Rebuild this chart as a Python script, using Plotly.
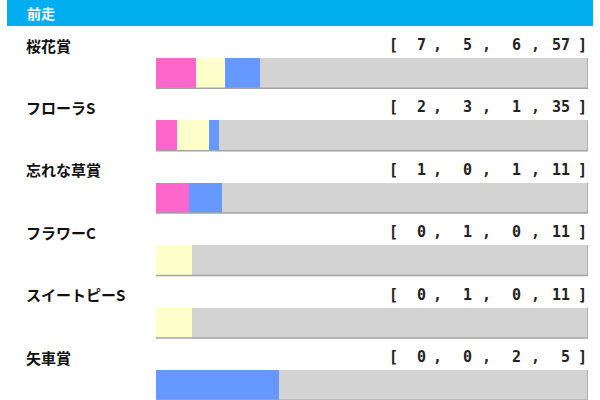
import numpy as np
import plotly.graph_objects as go

# previous race -> [1st, 2nd, 3rd, other] counts
races = ["桜花賞", "フローラS", "忘れな草賞", "フラワーC", "スイートピーS", "矢車賞"]
first = [7, 2, 1, 0, 0, 0]
second = [5, 3, 0, 1, 1, 0]
third = [6, 1, 1, 0, 0, 2]
other = [57, 35, 11, 11, 11, 5]

series = [first, second, third, other]
colors = ["#ff66cc", "#ffffcc", "#6699ff", "#d3d3d3"]
names = ["1着", "2着", "3着", "着外"]

counts = np.array(series, dtype=float)
frac = counts / counts.sum(axis=0)

fig = go.Figure()
for k in range(4):
    fig.add_trace(go.Bar(
        y=races, x=frac[k], orientation="h", name=names[k],
        marker=dict(color=colors[k], line=dict(width=0)),
        width=0.48, hoverinfo="skip",
    ))

W, H = 600, 400
x0_px, x1_px = 156, 588
lab_font = dict(family="Noto Sans CJK JP", size=15, color="#111111", weight="bold")
num_font = dict(family="DejaVu Sans Mono", size=15, color="#222222", weight="bold")

annotations = []
shapes = []
# header
shapes.append(dict(type="rect", xref="paper", yref="paper", x0=7 / W, x1=593 / W,
                   y0=1 - 26 / H, y1=1, fillcolor="#00aeef", line=dict(width=0), layer="below"))
annotations.append(dict(text="前走", xref="paper", yref="paper", x=25 / W, y=1 - 12.5 / H,
                        xanchor="left", yanchor="middle", showarrow=False,
                        font=dict(family="Noto Sans CJK JP", size=14, color="white", weight="bold")))

num_right = [428, 474, 523, 572]
comma_x = [437, 486, 535]
for i, race in enumerate(races):
    annotations.append(dict(text=race, xref="paper", yref="y", x=24 / W, y=i, yshift=28,
                            xanchor="left", yanchor="middle", showarrow=False, font=lab_font))
    annotations.append(dict(text="[", xref="paper", yref="y", x=393 / W, y=i, yshift=28,
                            xanchor="center", yanchor="middle", showarrow=False, font=num_font))
    annotations.append(dict(text="]", xref="paper", yref="y", x=582 / W, y=i, yshift=28,
                            xanchor="center", yanchor="middle", showarrow=False, font=num_font))
    for k in range(4):
        annotations.append(dict(text=str(series[k][i]), xref="paper", yref="y",
                                x=num_right[k] / W, y=i, yshift=28, xanchor="right",
                                yanchor="middle", showarrow=False, font=num_font))
    for cx in comma_x:
        annotations.append(dict(text=",", xref="paper", yref="y", x=cx / W, y=i, yshift=28,
                                xanchor="center", yanchor="middle", showarrow=False, font=num_font))
    # bar shadow on bottom and right edge
    shapes.append(dict(type="line", xref="x", yref="y", x0=0, x1=1, y0=i + 0.245, y1=i + 0.245,
                       line=dict(color="#a3a3a3", width=1.5)))
    shapes.append(dict(type="line", xref="x", yref="y", x0=1, x1=1, y0=i - 0.24, y1=i + 0.245,
                       line=dict(color="#a3a3a3", width=1.5)))

row0, step = 73, 62.4
fig.update_layout(
    width=W, height=H, barmode="stack", showlegend=False,
    margin=dict(l=0, r=0, t=0, b=0),
    plot_bgcolor="white", paper_bgcolor="white",
    xaxis=dict(domain=[x0_px / W, x1_px / W], range=[0, 1], visible=False, fixedrange=True),
    yaxis=dict(range=[(H - row0) / step, -row0 / step], visible=False, fixedrange=True),
    annotations=annotations, shapes=shapes,
)

fig.write_html("out.html", config={"displayModeBar": False},
               post_script="document.body.style.margin='0';")
